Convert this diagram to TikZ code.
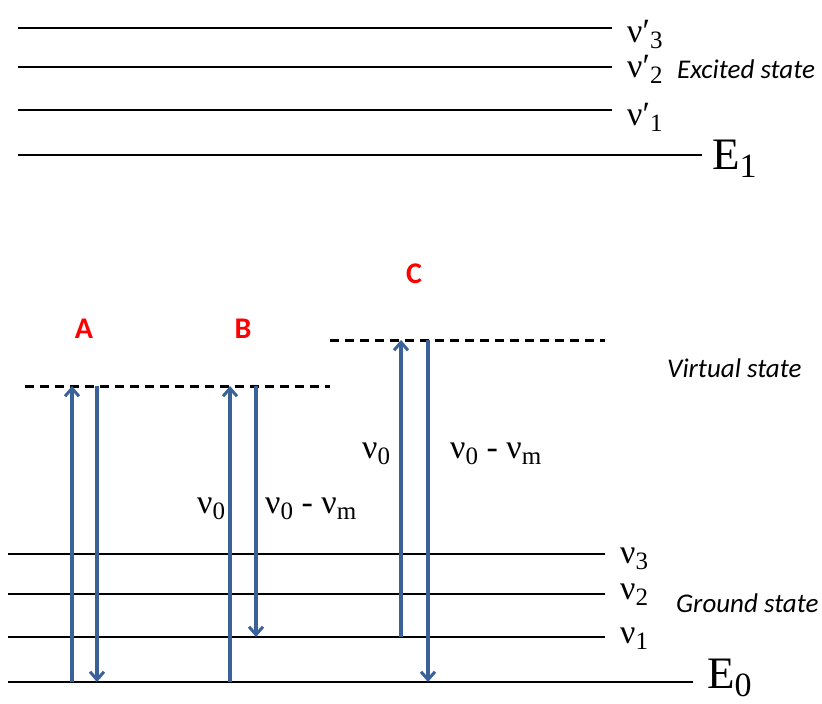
\documentclass[tikz,border=0pt]{standalone}
\usepackage{fontspec}
\setmainfont{Liberation Serif}
\setsansfont{Carlito}
\usetikzlibrary{arrows.meta, positioning}
\definecolor{rblue}{RGB}{58,98,152}

\newcommand{\nufont}{\rmfamily\fontsize{34}{34}\selectfont}
\newcommand{\nusub}[2]{ν#1\raisebox{-0.2em}{\fontsize{25}{25}\selectfont #2}}
\newcommand{\efont}{\rmfamily\fontsize{45}{45}\selectfont}
\newcommand{\esub}[1]{E\raisebox{-0.18em}{\fontsize{34}{34}\selectfont #1}}

\begin{document}
\begin{tikzpicture}[x=1pt,y=-1pt,>={Straight Barb[length=8pt,width=14pt,line width=3pt]}]
	
	\tikzset{level/.style={draw=black, line width=2.8pt}}
	\tikzset{virt/.style={level, line width=3pt, dash pattern=on 9pt off 6pt}}
	\tikzset{trans/.style={->, draw=rblue, line width=3.5pt}}
	\tikzset{tag/.style={inner sep=0pt, text=red, font=\sffamily\bfseries\fontsize{30}{30}\selectfont}}
	\tikzset{lab/.style={anchor=base west, inner sep=0pt, font=\nufont}}
	\tikzset{statelab/.style={anchor=base west, inner sep=0pt, font=\sffamily\itshape\fontsize{27}{27}\selectfont}}
	
	\useasboundingbox (0,0) rectangle (822,704);
	
	% excited state
	\foreach \y/\b/\i in {28/42/3, 67/77/2, 110/125/1}{
		\coordinate (e\i) at (18,\y);
		\draw[level] (e\i) -- ++(594,0);
		\node[lab] (le\i) at (627,\b) {\nusub{′}{\i}};
	}
	\coordinate (E1) at (18,155);
	\draw[level] (E1) -- ++(684,0);
	\node[lab, font=\efont] (lE1) at (712,169) {\esub{1}};
	\node[statelab] (exc) at (677,78) {Excited state};
	
	% ground state
	\foreach \y/\b/\i in {554/563/3, 594/599/2, 637/643/1}{
		\coordinate (g\i) at (8,\y);
		\draw[level] (g\i) -- ++(597,0);
		\node[lab] (lg\i) at (620,\b) {\nusub{}{\i}};
	}
	\coordinate (E0) at (8,682);
	\draw[level] (E0) -- ++(685,0);
	\node[lab, font=\efont] (lE0) at (707,688) {\esub{0}};
	\node[statelab] (gnd) at (676,612) {Ground state};
	
	% virtual states
	\coordinate (vAB) at (25,386);
	\draw[virt] (vAB) -- ++(305,0);
	\coordinate (vC) at (330,340);
	\draw[virt] (vC) -- ++(275,0);
	\node[statelab] (virt) at (667,377) {Virtual state};
	
	\node[tag] (A) at (84,329) {A};
	\node[tag] (B) at (243,329) {B};
	\node[tag] (C) at (414,274) {C};
	
	% transitions
	\draw[trans] ([xshift=-12pt]A |- E0) -- ([xshift=-12pt]A |- vAB);
	\draw[trans] ([xshift=13pt]A |- vAB) -- ([xshift=13pt]A |- E0);
	\draw[trans] ([xshift=-13pt]B |- E0) -- ([xshift=-13pt]B |- vAB);
	\draw[trans] ([xshift=13pt]B |- vAB) -- ([xshift=13pt]B |- g1);
	\draw[trans] ([xshift=-13pt]C |- g1) -- ([xshift=-13pt]C |- vC);
	\draw[trans] ([xshift=14pt]C |- vC) -- ([xshift=14pt]C |- E0);
	
	\node[lab] (nuB) at (197,513) {\nusub{}{0}};
	\node[lab] (dnuB) at (265,513) {\nusub{}{0} - \nusub{}{m}};
	\node[lab] (nuC) at (362,458) {\nusub{}{0}};
	\node[lab] (dnuC) at (450,458) {\nusub{}{0} - \nusub{}{m}};
	
\end{tikzpicture}
\end{document}
